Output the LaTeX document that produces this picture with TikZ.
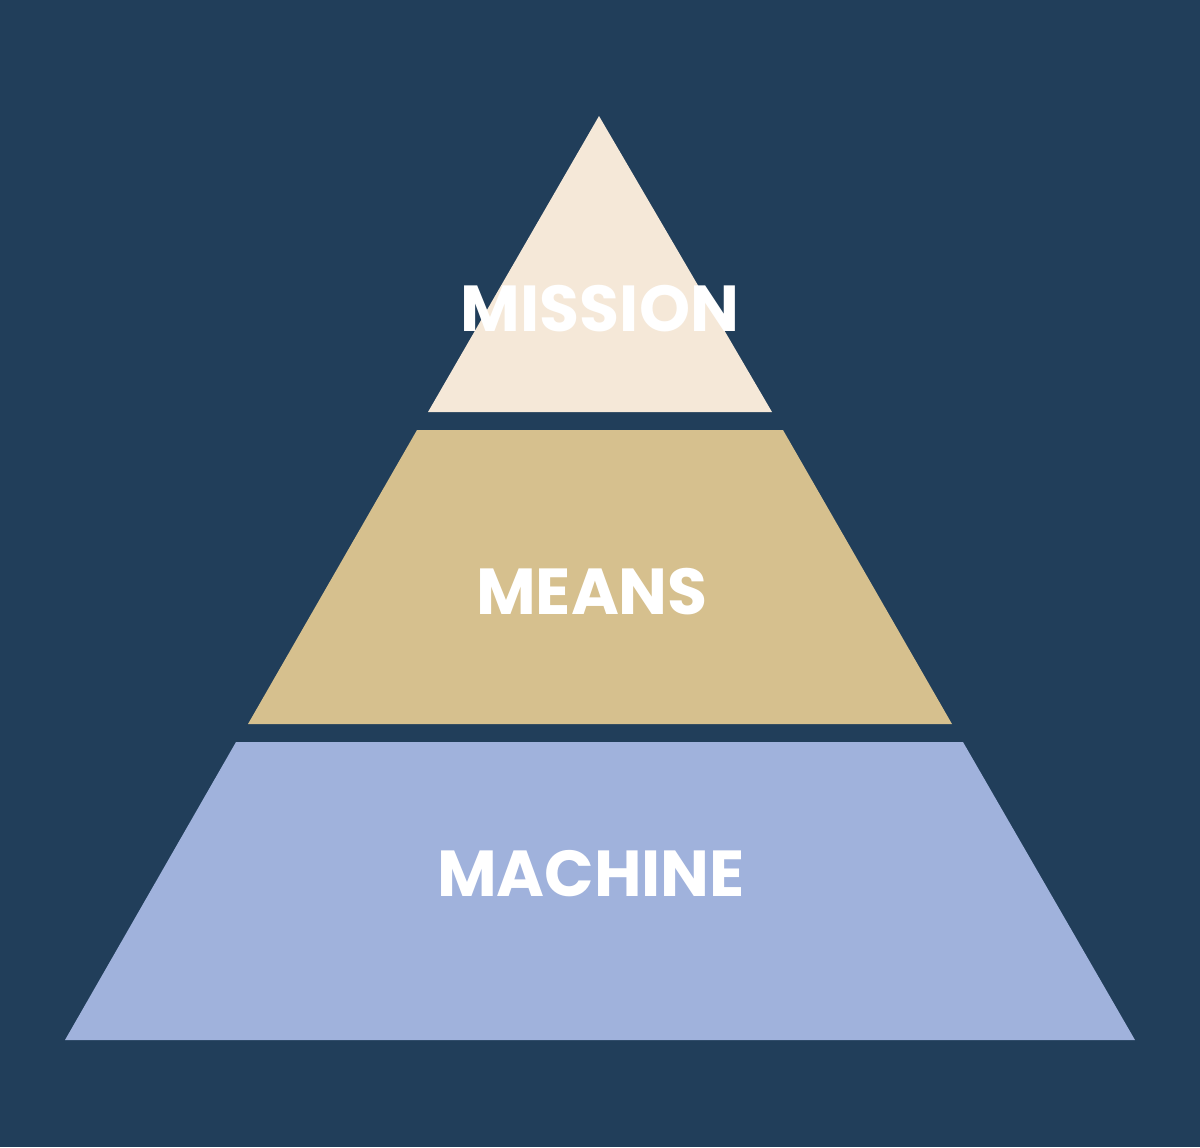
\documentclass[tikz,border=0pt]{standalone}
\usepackage{fontspec}
\setmainfont{Poppins}[BoldFont={* Bold}]
\usepackage{tikz}
\usetikzlibrary{calc}

\definecolor{bgnavy}{HTML}{213E5A}
\definecolor{topcream}{HTML}{F5E8D8}
\definecolor{midsand}{HTML}{D6C08E}
\definecolor{lowblue}{HTML}{A0B2DC}

\tikzset{
    layerlabel/.style={text=white, inner sep=0pt, font=\fontsize{18.5}{20}\selectfont\bfseries},
}

\begin{document}
\begin{tikzpicture}[x=0.1mm, y=-0.1mm]

        % background, fixes the picture size
        \fill[bgnavy] (0,0) rectangle (1200,1147);

        % top layer
        \fill[topcream] (599,116) -- (772,412) -- (428,412) -- cycle;
        \node [layerlabel] (mission) at (600,309) {MISSION};

        % middle layer
        \fill[midsand] (417,430) -- (783,430) -- (952,724) -- (248,724) -- cycle;
        \node [layerlabel] (means) at (592,592) {MEANS};

        % bottom layer
        \fill[lowblue] (236,742) -- (963,742) -- (1135,1040) -- (65,1040) -- cycle;
        \node [layerlabel] (machine) at (591,874) {MACHINE};

\end{tikzpicture}
\end{document}
